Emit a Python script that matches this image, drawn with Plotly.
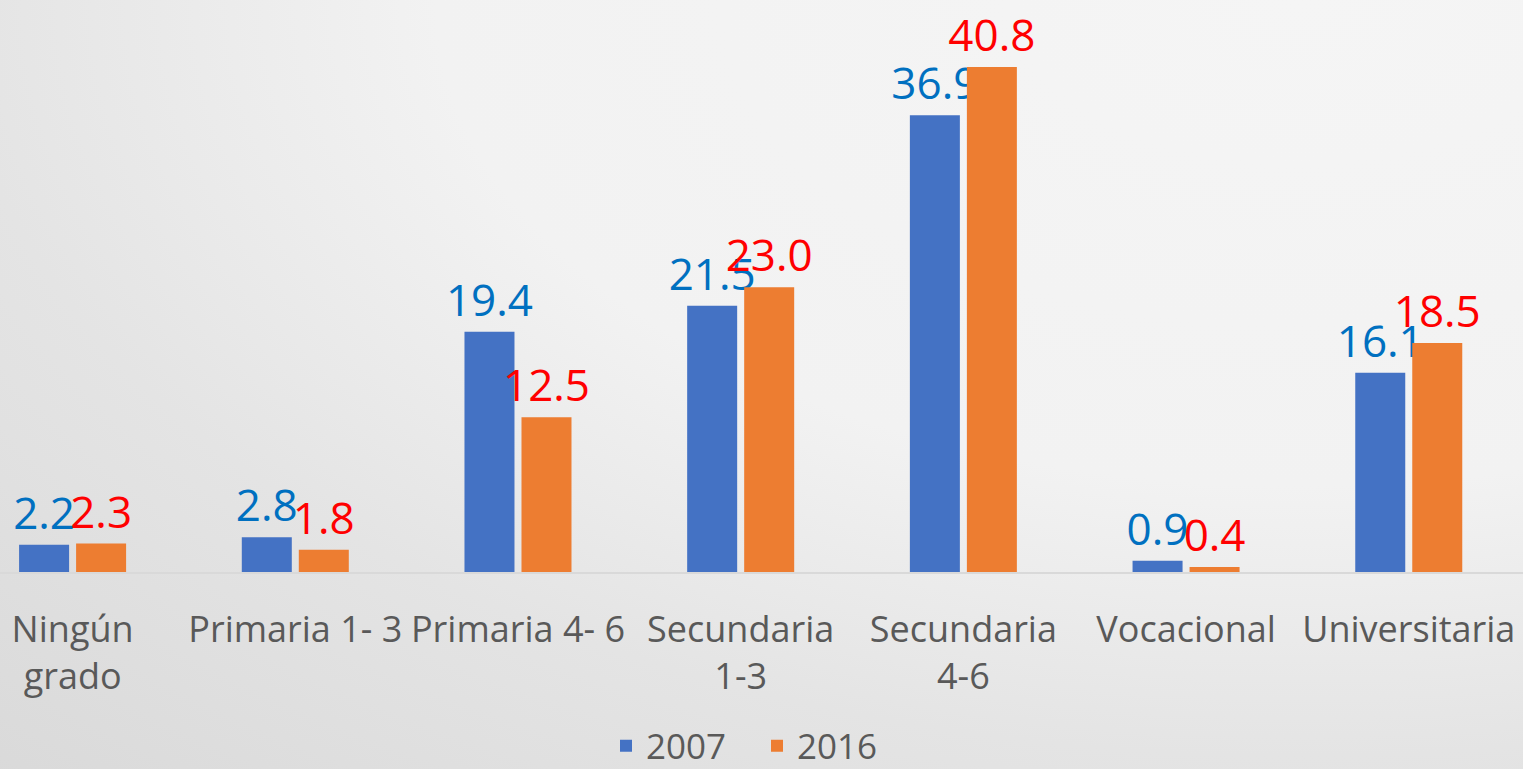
import base64
import plotly.graph_objects as go

categories = ["Ningún<br>grado", "Primaria 1- 3", "Primaria 4- 6", "Secundaria<br>1-3",
              "Secundaria<br>4-6", "Vocacional", "Universitaria"]
values_2007 = [2.2, 2.8, 19.4, 21.5, 36.9, 0.9, 16.1]
values_2016 = [2.3, 1.8, 12.5, 23.0, 40.8, 0.4, 18.5]
series_names = ["2007", "2016"]

W, H = 1523, 769
BASE = 572  # pixel row of the category axis

svg = f'''<svg xmlns="http://www.w3.org/2000/svg" width="{W}" height="{H}" viewBox="0 0 {W} {H}" preserveAspectRatio="none">
<defs><radialGradient id="g" gradientUnits="userSpaceOnUse" cx="1300" cy="0" r="1920" gradientTransform="scale(1,0.5625)">
<stop offset="0" stop-color="#f5f5f5"/><stop offset="0.45" stop-color="#f2f2f2"/>
<stop offset="0.7" stop-color="#e4e4e4"/><stop offset="1" stop-color="#d9d9d9"/></radialGradient></defs>
<rect width="{W}" height="{H}" fill="url(#g)"/></svg>'''
bg_uri = "data:image/svg+xml;base64," + base64.b64encode(svg.encode()).decode()

FONT = "Open Sans"
fig = go.Figure()
fig.add_trace(go.Bar(
    name=series_names[0], x=categories, y=values_2007,
    marker=dict(color="#4472C4", line=dict(width=0)),
    text=[f"{v:.1f}" for v in values_2007], textposition="outside",
    textfont=dict(family=FONT, size=44, color="#0070C0"),
    constraintext="none", cliponaxis=False,
))
fig.add_trace(go.Bar(
    name=series_names[1], x=categories, y=values_2016,
    marker=dict(color="#ED7D31", line=dict(width=0)),
    text=[f"{v:.1f}" for v in values_2016], textposition="outside",
    textfont=dict(family=FONT, size=44, color="#FF0000"),
    constraintext="none", cliponaxis=False,
))

fig.update_layout(
    width=W, height=H, autosize=False,
    margin=dict(l=0, r=0, t=0, b=H - BASE, pad=0, autoexpand=False),
    paper_bgcolor="#dedede", plot_bgcolor="rgba(0,0,0,0)",
    barmode="group", bargap=0.488, bargroupgap=0.123,
    font=dict(family=FONT, color="#595959"),
    showlegend=True,
    legend=dict(orientation="h", x=606 / W, xanchor="left",
                yref="container", y=(H - 746) / H, yanchor="middle",
                entrywidth=106, entrywidthmode="pixels",
                font=dict(family=FONT, size=35, color="#595959"),
                bgcolor="rgba(0,0,0,0)", itemwidth=30),
    images=[dict(source=bg_uri, xref="paper", yref="paper", x=0, y=1,
                 sizex=1, sizey=H / BASE, xanchor="left", yanchor="top",
                 sizing="stretch", layer="below")],
)
fig.update_xaxes(
    type="category", range=[-0.326, 6.513], automargin=False,
    showline=True, linecolor="#d9d9d9", linewidth=1.5,
    showgrid=False, ticks="", ticklabelstandoff=25,
    tickfont=dict(family=FONT, size=36, color="#595959"),
)
fig.update_yaxes(range=[0, BASE / 12.38], visible=False, showgrid=False,
                 zeroline=False, automargin=False)

fig.write_html("out.html",
               config={"responsive": False, "displayModeBar": False},
               post_script="document.body.style.margin='0';document.body.style.overflow='hidden';")
